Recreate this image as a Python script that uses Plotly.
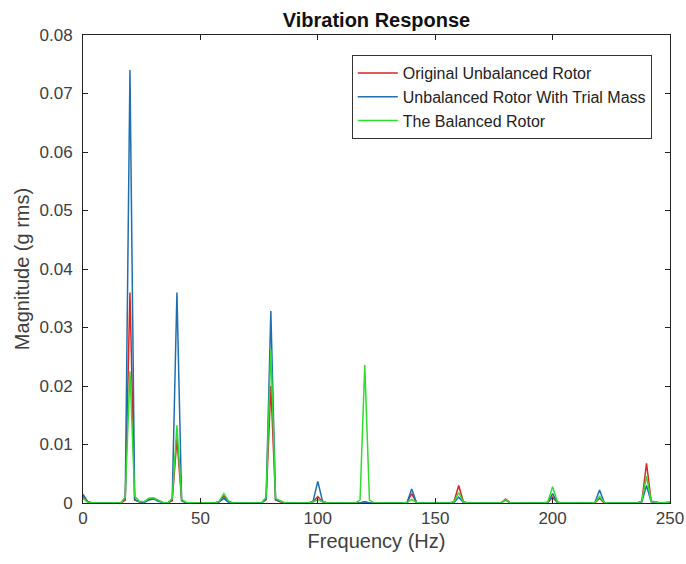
import plotly.graph_objects as go

freq = [0, 2, 4,
        16, 18, 20, 22, 24,
        26, 28, 30, 32, 34,
        36, 38, 40, 42, 44,
        56, 58, 60, 62, 64,
        76, 78, 80, 82, 84, 86,
        96, 98, 100, 102, 104,
        116, 118, 120, 122, 124,
        136, 138, 140, 142, 144,
        156, 158, 160, 162, 164,
        176, 178, 180, 182, 184,
        196, 198, 200, 202, 204,
        216, 218, 220, 222, 224,
        236, 238, 240, 242, 244, 246,
        250]

original = [0.0012, 0.0002, 0,
            0, 0.0005, 0.036, 0.0005, 0.0002,
            0.0001, 0.0006, 0.0008, 0.0004, 0.0001,
            0, 0.0004, 0.011, 0.0004, 0,
            0, 0.0002, 0.0012, 0.0002, 0,
            0, 0.0006, 0.020, 0.0005, 0.0002, 0,
            0, 0.0002, 0.0011, 0.0002, 0,
            0, 0, 0.0002, 0, 0,
            0, 0.0001, 0.0016, 0.0001, 0,
            0, 0.0002, 0.0030, 0.0002, 0,
            0, 0, 0.0007, 0, 0,
            0, 0.0001, 0.0010, 0.0001, 0,
            0, 0, 0.0008, 0, 0,
            0, 0.0003, 0.0068, 0.0003, 0.0001, 0,
            0]

trial = [0.0015, 0.0002, 0,
         0, 0.0008, 0.074, 0.0006, 0.0002,
         0.0001, 0.0005, 0.0007, 0.0003, 0.0001,
         0, 0.0006, 0.036, 0.0005, 0,
         0, 0.0002, 0.0008, 0.0001, 0,
         0, 0.0008, 0.0328, 0.0006, 0.0003, 0,
         0, 0.0003, 0.0037, 0.0003, 0,
         0, 0, 0.0002, 0, 0,
         0, 0.0001, 0.0024, 0.0001, 0,
         0, 0.0001, 0.0010, 0.0001, 0,
         0, 0, 0.0005, 0, 0,
         0, 0.0001, 0.0016, 0.0001, 0,
         0, 0.0001, 0.0022, 0.0001, 0,
         0, 0.0002, 0.0030, 0.0002, 0.0001, 0,
         0]

balanced = [0.0008, 0.0001, 0,
            0, 0.0010, 0.0225, 0.0012, 0.0003,
            0.0002, 0.0008, 0.0009, 0.0005, 0.0001,
            0, 0.0008, 0.0133, 0.0006, 0.0001,
            0, 0.0003, 0.0016, 0.0003, 0,
            0, 0.0010, 0.0262, 0.0008, 0.0004, 0,
            0, 0.0002, 0.0006, 0.0002, 0,
            0, 0.0005, 0.0236, 0.0005, 0,
            0, 0.0001, 0.0006, 0.0001, 0,
            0, 0.0002, 0.0018, 0.0002, 0,
            0, 0, 0.0006, 0, 0,
            0, 0.0002, 0.0028, 0.0002, 0,
            0, 0.0001, 0.0011, 0.0001, 0,
            0, 0.0003, 0.0046, 0.0003, 0.0002, 0,
            0.0002]

series_names = ["Original Unbalanced Rotor", "Unbalanced Rotor With Trial Mass", "The Balanced Rotor"]
series_colors = ["#d92424", "#1f6fb0", "#2ede2e"]

y_ticks = [0, 0.01, 0.02, 0.03, 0.04, 0.05, 0.06, 0.07, 0.08]
y_labels = ["0", "0.01", "0.02", "0.03", "0.04", "0.05", "0.06", "0.07", "0.08"]
x_ticks = [0, 50, 100, 150, 200, 250]

fig = go.Figure()
for name, vals, col in zip(series_names, [original, trial, balanced], series_colors):
    fig.add_trace(go.Scatter(x=freq, y=vals, mode="lines", name=name,
                             line=dict(color=col, width=1.5)))

font_family = "Liberation Sans, Arial, sans-serif"
fig.update_layout(
    template="none",
    width=686, height=564,
    margin=dict(l=83, r=16, t=35, b=61, autoexpand=False),
    paper_bgcolor="white", plot_bgcolor="white",
    font=dict(family=font_family, size=17, color="#404040"),
    title=dict(text="<b>Vibration Response</b>", x=0.5, xref="paper", xanchor="center",
               y=1 - 20 / 564, yanchor="middle", font=dict(size=20, color="#111111")),
    showlegend=True,
    legend=dict(x=0.969, y=0.957, xanchor="right", yanchor="top",
                bgcolor="white", bordercolor="#333333", borderwidth=1,
                itemwidth=40,
                font=dict(size=16, color="#222222"), tracegroupgap=0),
    xaxis=dict(range=[0, 250], tickvals=x_ticks, ticks="inside", ticklen=5,
               showline=True, linecolor="#222222", linewidth=1, mirror="ticks",
               tickcolor="#222222", showgrid=False, zeroline=False, automargin=False,
               title=dict(text="Frequency (Hz)", font=dict(size=20, color="#404040"), standoff=6)),
    yaxis=dict(range=[0, 0.08], tickvals=y_ticks, ticktext=y_labels, ticks="inside", ticklen=5,
               showline=True, linecolor="#222222", linewidth=1, mirror="ticks",
               tickcolor="#222222", showgrid=False, zeroline=False, automargin=False,
               ticklabelstandoff=6,
               title=dict(text="Magnitude (g rms)", font=dict(size=20, color="#404040"), standoff=4)),
)

fig.write_html("out.html")
